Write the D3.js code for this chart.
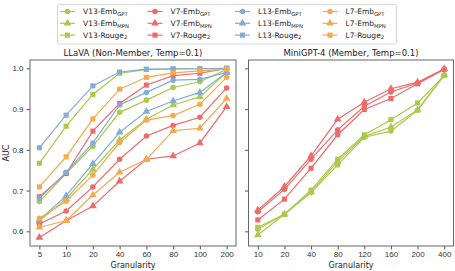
<!DOCTYPE html>
<meta charset="utf-8">
<style>
body { margin: 0; background: #fff; }
svg { display: block; font-family: "DejaVu Sans", sans-serif; }
.tick text { font-size: 8px; fill: #333; }
.tick line { stroke: #555; }
</style>
<svg id="chart" width="455" height="271"></svg>
<script src="https://d3js.org/d3.v7.min.js"></script>
<script>

// granularity categories
var llavaCats = ["5", "10", "20", "40", "60", "80", "100", "200"];
var miniCats = ["10", "20", "40", "80", "120", "160", "200", "400"];
var yTicks = [0.6, 0.7, 0.8, 0.9, 1.0];

// LLaVA (Non-Member)
var v13EmbGpt  = [0.673, 0.742, 0.809, 0.892, 0.922, 0.953, 0.967, 0.997];
var v13EmbMpn  = [0.625, 0.680, 0.752, 0.824, 0.875, 0.910, 0.930, 0.990];
var v13Rouge   = [0.767, 0.858, 0.936, 0.988, 0.997, 0.998, 0.999, 1.000];
var v7EmbGpt   = [0.618, 0.650, 0.709, 0.777, 0.834, 0.860, 0.880, 0.952];
var v7EmbMpn   = [0.585, 0.626, 0.662, 0.723, 0.777, 0.785, 0.817, 0.906];
var v7Rouge    = [0.685, 0.742, 0.846, 0.914, 0.959, 0.982, 0.988, 1.000];
var l13EmbGpt  = [0.681, 0.745, 0.817, 0.910, 0.941, 0.971, 0.973, 0.990];
var l13EmbMpn  = [0.628, 0.687, 0.766, 0.843, 0.894, 0.920, 0.941, 0.990];
var l13Rouge   = [0.805, 0.885, 0.957, 0.991, 0.998, 0.999, 0.999, 1.000];
var l7EmbGpt   = [0.632, 0.674, 0.738, 0.818, 0.873, 0.884, 0.912, 0.978];
var l7EmbMpn   = [0.610, 0.626, 0.689, 0.745, 0.776, 0.847, 0.853, 0.926];
var l7Rouge    = [0.709, 0.783, 0.876, 0.949, 0.978, 0.989, 0.994, 0.998];

// MiniGPT-4 (Member)
var mV13EmbGpt = [0.605, 0.642, 0.695, 0.763, 0.831, 0.846, 0.897, 0.983];
var mV13EmbMpn = [0.591, 0.642, 0.697, 0.771, 0.833, 0.856, 0.898, 0.984];
var mV13Rouge  = [0.610, 0.642, 0.701, 0.777, 0.837, 0.874, 0.915, 0.982];
var mV7EmbGpt  = [0.648, 0.703, 0.777, 0.849, 0.907, 0.942, 0.964, 0.998];
var mV7EmbMpn  = [0.652, 0.710, 0.785, 0.875, 0.917, 0.950, 0.966, 0.999];
var mV7Rouge   = [0.628, 0.679, 0.755, 0.837, 0.899, 0.926, 0.962, 0.997];

var colors = { V13: "#abc94a", V7: "#ee6b6b", L13: "#83acd6", L7: "#f6a94f" };
var shapes = { gpt: d3.symbolCircle, mpn: d3.symbolTriangle, rouge: d3.symbolSquare };

var llavaSeries = [
  { m: "V13", k: "gpt", v: v13EmbGpt }, { m: "V13", k: "mpn", v: v13EmbMpn }, { m: "V13", k: "rouge", v: v13Rouge },
  { m: "V7", k: "gpt", v: v7EmbGpt }, { m: "V7", k: "mpn", v: v7EmbMpn }, { m: "V7", k: "rouge", v: v7Rouge },
  { m: "L13", k: "gpt", v: l13EmbGpt }, { m: "L13", k: "mpn", v: l13EmbMpn }, { m: "L13", k: "rouge", v: l13Rouge },
  { m: "L7", k: "gpt", v: l7EmbGpt }, { m: "L7", k: "mpn", v: l7EmbMpn }, { m: "L7", k: "rouge", v: l7Rouge }
];
var miniSeries = [
  { m: "V13", k: "gpt", v: mV13EmbGpt }, { m: "V13", k: "mpn", v: mV13EmbMpn }, { m: "V13", k: "rouge", v: mV13Rouge },
  { m: "V7", k: "gpt", v: mV7EmbGpt }, { m: "V7", k: "mpn", v: mV7EmbMpn }, { m: "V7", k: "rouge", v: mV7Rouge }
];

var svg = d3.select("#chart");
var plotTop = 60, plotBottom = 246;

var y = d3.scaleLinear().domain([0.564, 1.0205]).range([plotBottom, plotTop]);

function symbolFor(k) {
  var size = k == "gpt" ? 24 : 26;
  return d3.symbol().type(shapes[k]).size(size);
}

function panel(x0, x1, cats, series, title, showY) {
  var x = d3.scalePoint().domain(cats).range([x0, x1]).padding(0.35);
  var g = svg.append("g");

  // y axis
  g.append("g")
      .attr("transform", "translate(" + x0 + ",0)")
      .call(d3.axisLeft(y).tickValues(yTicks).tickSize(3.5).tickPadding(3)
        .tickFormat(showY ? d3.format(".1f") : ""))
      .call(function(a) { a.select(".domain").remove(); });

  // x axis
  g.append("g")
      .attr("transform", "translate(0," + plotBottom + ")")
      .call(d3.axisBottom(x).tickSize(3.5).tickPadding(2))
      .call(function(a) { a.select(".domain").remove(); });

  // frame
  g.append("rect")
      .attr("x", x0).attr("y", plotTop)
      .attr("width", x1 - x0).attr("height", plotBottom - plotTop)
      .attr("fill", "none").attr("stroke", "#666").attr("stroke-width", 1);

  var line = d3.line()
      .x(function(d, i) { return x(cats[i]); })
      .y(function(d) { return y(d); });

  series.forEach(function(s) {
    var c = colors[s.m];
    g.append("path")
        .attr("d", line(s.v))
        .attr("fill", "none")
        .attr("stroke", c)
        .attr("stroke-width", 1.2);
    g.selectAll(null).data(s.v).enter().append("path")
        .attr("transform", function(d, i) { return "translate(" + x(cats[i]) + "," + y(d) + ")"; })
        .attr("d", symbolFor(s.k)())
        .attr("fill", c);
  });

  g.append("text")
      .attr("x", (x0 + x1) / 2).attr("y", plotTop - 4)
      .attr("text-anchor", "middle")
      .attr("font-size", 8.5).attr("fill", "#222")
      .text(title);

  g.append("text")
      .attr("x", (x0 + x1) / 2).attr("y", 268)
      .attr("text-anchor", "middle")
      .attr("font-size", 8).attr("fill", "#222")
      .text("Granularity");
}

panel(30, 236, llavaCats, llavaSeries, "LLaVA (Non-Member, Temp=0.1)", true);
panel(248.5, 453.5, miniCats, miniSeries, "MiniGPT-4 (Member, Temp=0.1)", false);

svg.append("text")
    .attr("transform", "translate(9," + ((plotTop + plotBottom) / 2) + ") rotate(-90)")
    .attr("text-anchor", "middle")
    .attr("font-size", 8).attr("fill", "#222")
    .text("AUC");

// legend
var legendModels = ["V13", "V7", "L13", "L7"];
var legendKinds = [
  { k: "gpt", base: "Emb", sub: "GPT" },
  { k: "mpn", base: "Emb", sub: "MPN" },
  { k: "rouge", base: "Rouge", sub: "2" }
];

var legend = svg.append("g");
legend.append("rect")
    .attr("x", 57.5).attr("y", 4.5).attr("width", 339).attr("height", 39.5)
    .attr("rx", 2).attr("fill", "#fff").attr("stroke", "#ccc").attr("stroke-width", 0.8);

legendModels.forEach(function(m, ci) {
  legendKinds.forEach(function(kd, ri) {
    var lx = 60 + ci * 87.5, ly = 11.5 + ri * 11.8;
    legend.append("line")
        .attr("x1", lx).attr("x2", lx + 15).attr("y1", ly).attr("y2", ly)
        .attr("stroke", colors[m]).attr("stroke-width", 1.2);
    legend.append("path")
        .attr("transform", "translate(" + (lx + 7.5) + "," + ly + ")")
        .attr("d", symbolFor(kd.k)())
        .attr("fill", colors[m]);
    var t = legend.append("text")
        .attr("x", lx + 23).attr("y", ly + 2.8)
        .attr("font-size", 7.5).attr("fill", "#222");
    t.append("tspan").text(m + "-" + kd.base);
    t.append("tspan").attr("font-size", 5.3).attr("dy", 1.5).text(kd.sub);
  });
});

</script>
